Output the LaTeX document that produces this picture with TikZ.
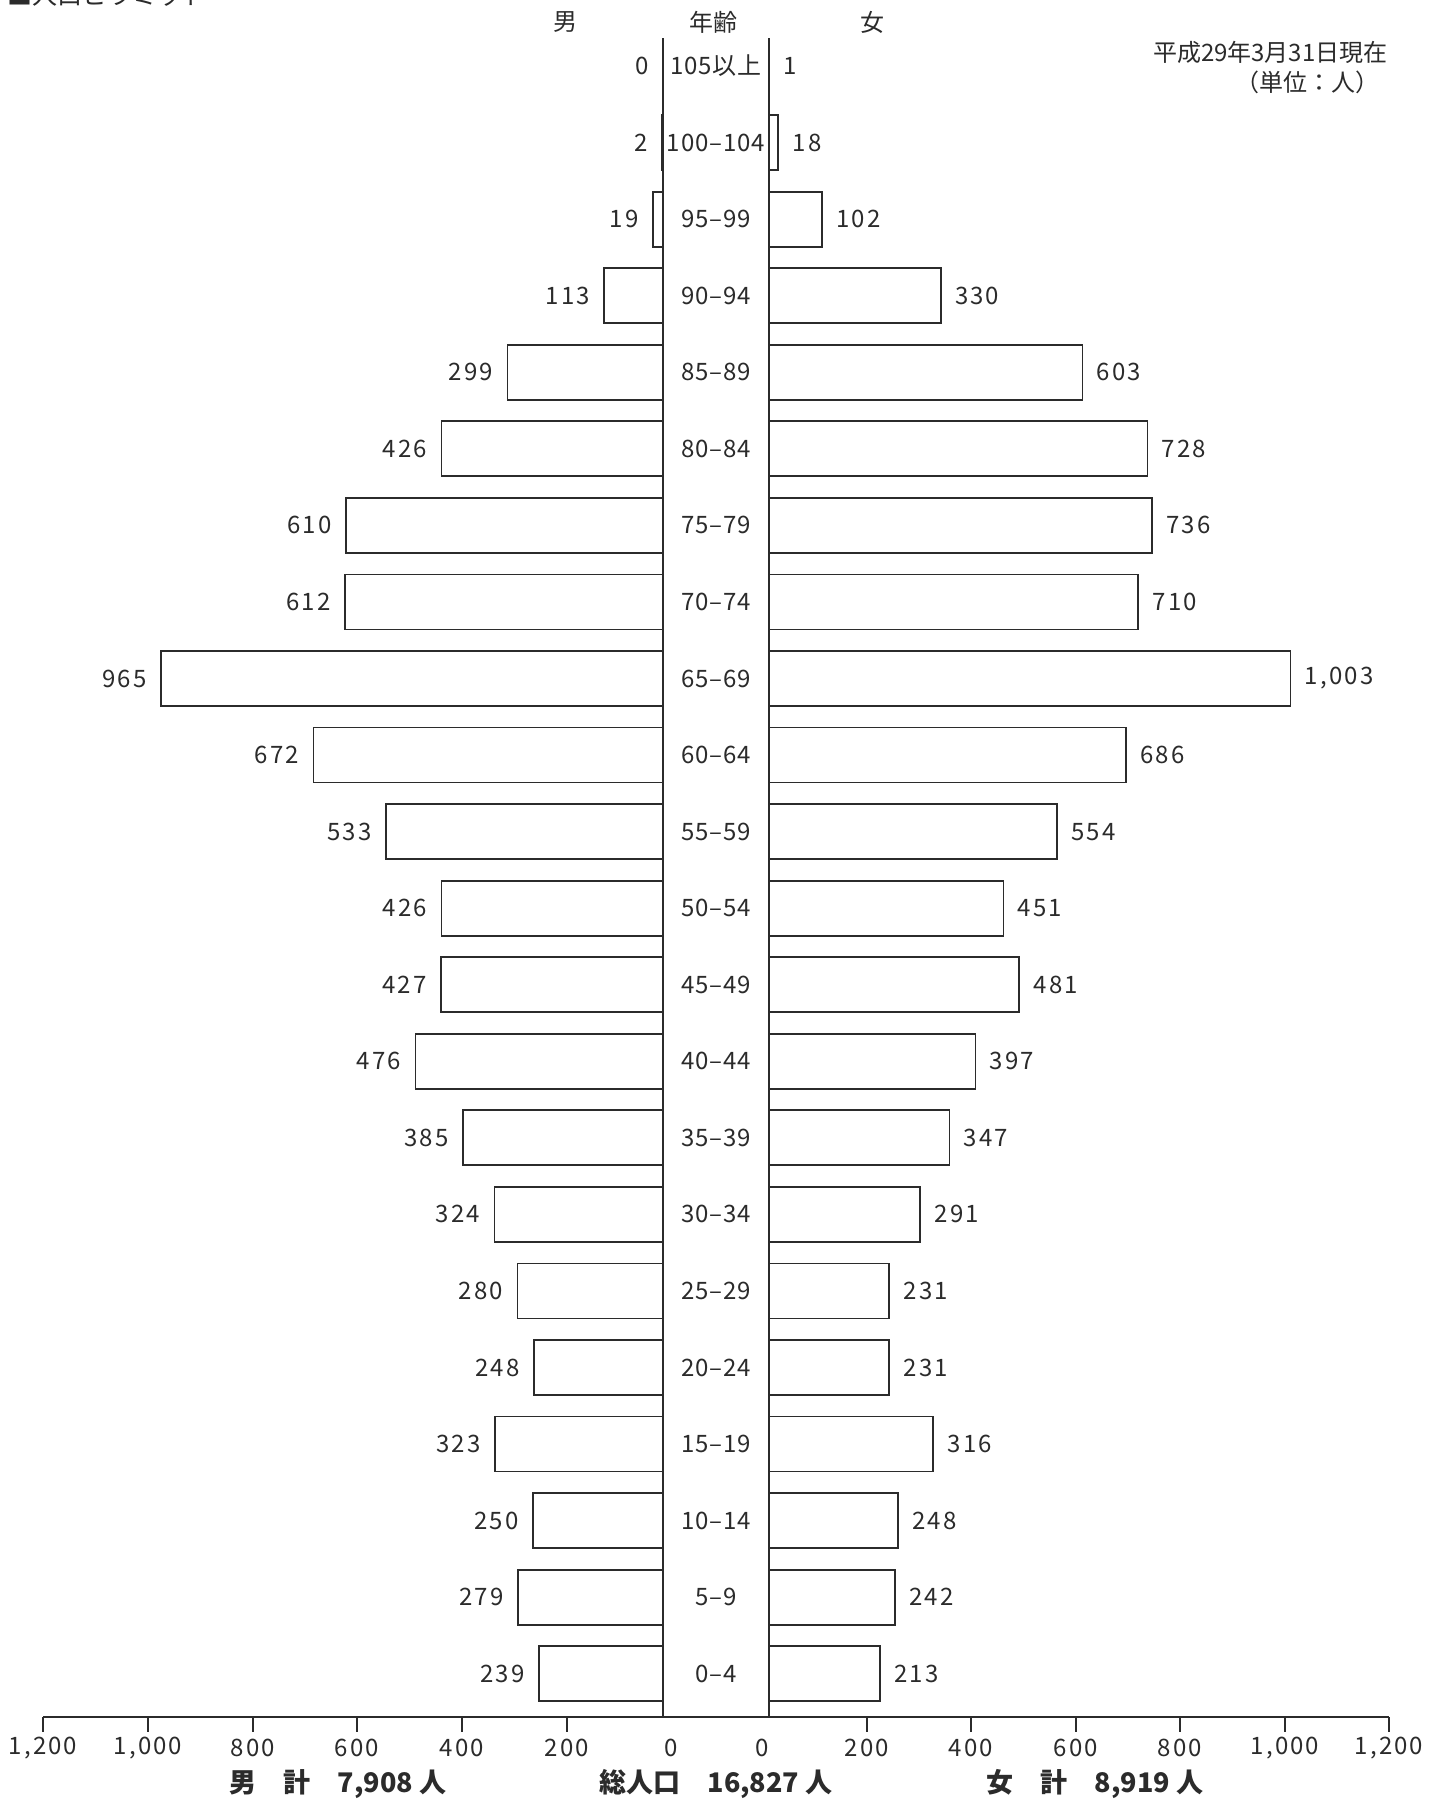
\documentclass[tikz,border=0pt]{standalone}
\usepackage{fontspec}
\setmainfont{Noto Sans CJK JP}
\newfontfamily\numfont[LetterSpace=9]{Noto Sans CJK JP}
\newfontfamily\agefont[LetterSpace=4]{Noto Sans CJK JP}
\definecolor{ink}{HTML}{2B2B2B}
\tikzset{
	popbar/.style={draw=ink, line width=0.9pt, fill=white},
	vallbl/.style={text=ink, inner sep=0pt, font=\fontsize{12}{14}\selectfont},
	numlbl/.style={vallbl, font=\fontsize{12}{14}\numfont},
	agelbl/.style={vallbl, font=\fontsize{12}{14}\agefont},
	boldlbl/.style={text=ink, inner sep=0pt, font=\fontsize{13.5}{16}\selectfont\bfseries},
	axisline/.style={draw=ink, line width=0.8pt}
}
\begin{document}
\begin{tikzpicture}[x=0.5pt, y=-0.5pt]
	\useasboundingbox (0,0) rectangle (1444,1800);
	\clip (0,0) rectangle (1444,1800);
	\fill[white] (0,0) rectangle (1444,1800);

	% headings
	\node[vallbl, anchor=base west, font=\fontsize{12.5}{14}\selectfont] (title) at (7,4) {■人口ピラミッド};
	\node[vallbl] (hdrmale) at (565,22) {男};
	\node[vallbl] (hdrage) at (713,22) {年齢};
	\node[vallbl] (hdrfemale) at (872,22) {女};
	\node[vallbl, anchor=east] (date) at (1388,52) {平成29年3月31日現在};
	\node[vallbl, anchor=east] (unit) at (1380,82) {（単位：人）};

	% bars, one row per age group
	\foreach \age/\m/\f/\fl [count=\i from 0] in {
		105以上/0/1/1, 100–104/2/18/18, 95–99/19/102/102, 90–94/113/330/330,
		85–89/299/603/603, 80–84/426/728/728, 75–79/610/736/736, 70–74/612/710/710,
		65–69/965/1003/{1,003}, 60–64/672/686/686, 55–59/533/554/554, 50–54/426/451/451,
		45–49/427/481/481, 40–44/476/397/397, 35–39/385/347/347, 30–34/324/291/291,
		25–29/280/231/231, 20–24/248/231/231, 15–19/323/316/316, 10–14/250/248/248,
		5–9/279/242/242, 0–4/239/213/213}
	{
		\pgfmathsetmacro\yc{66+\i*76.56}
		\pgfmathsetmacro\xm{663-\m*0.52}
		\pgfmathsetmacro\xf{769+\f*0.52}
		\draw[popbar] (\xm,\yc-27.5) rectangle (663,\yc+27.5);
		\draw[popbar] (769,\yc-27.5) rectangle (\xf,\yc+27.5);
		\node[numlbl, anchor=east] (male\i) at (\xm-14,\yc) {\m};
		\node[numlbl, anchor=west] (female\i) at (\xf+14,\yc) {\fl};
		\node[agelbl] (age\i) at (716,\yc) {\age};
	}

	% centre lines and axis
	\draw[axisline] (663,38) -- (663,1717);
	\draw[axisline] (769,38) -- (769,1717);
	\draw[axisline] (43,1717) -- (1389,1717);
	\foreach \x/\t in {43/{1,200}, 148/{1,000}, 253/800, 357/600, 462/400, 567/200,
		867/200, 971/400, 1076/600, 1180/800, 1285/{1,000}, 1389/{1,200}}
	{
		\draw[axisline] (\x,1717) -- (\x,1732);
		\node[numlbl] at (\x,1748) {\t};
	}
	\node[numlbl] (zerom) at (671,1748) {0};
	\node[numlbl] (zerof) at (762,1748) {0};

	% totals
	\node[boldlbl] (totm) at (338,1784) {男　計　7,908 人};
	\node[boldlbl] (totall) at (716,1784) {総人口　16,827 人};
	\node[boldlbl] (totf) at (1095,1784) {女　計　8,919 人};
\end{tikzpicture}
\end{document}
